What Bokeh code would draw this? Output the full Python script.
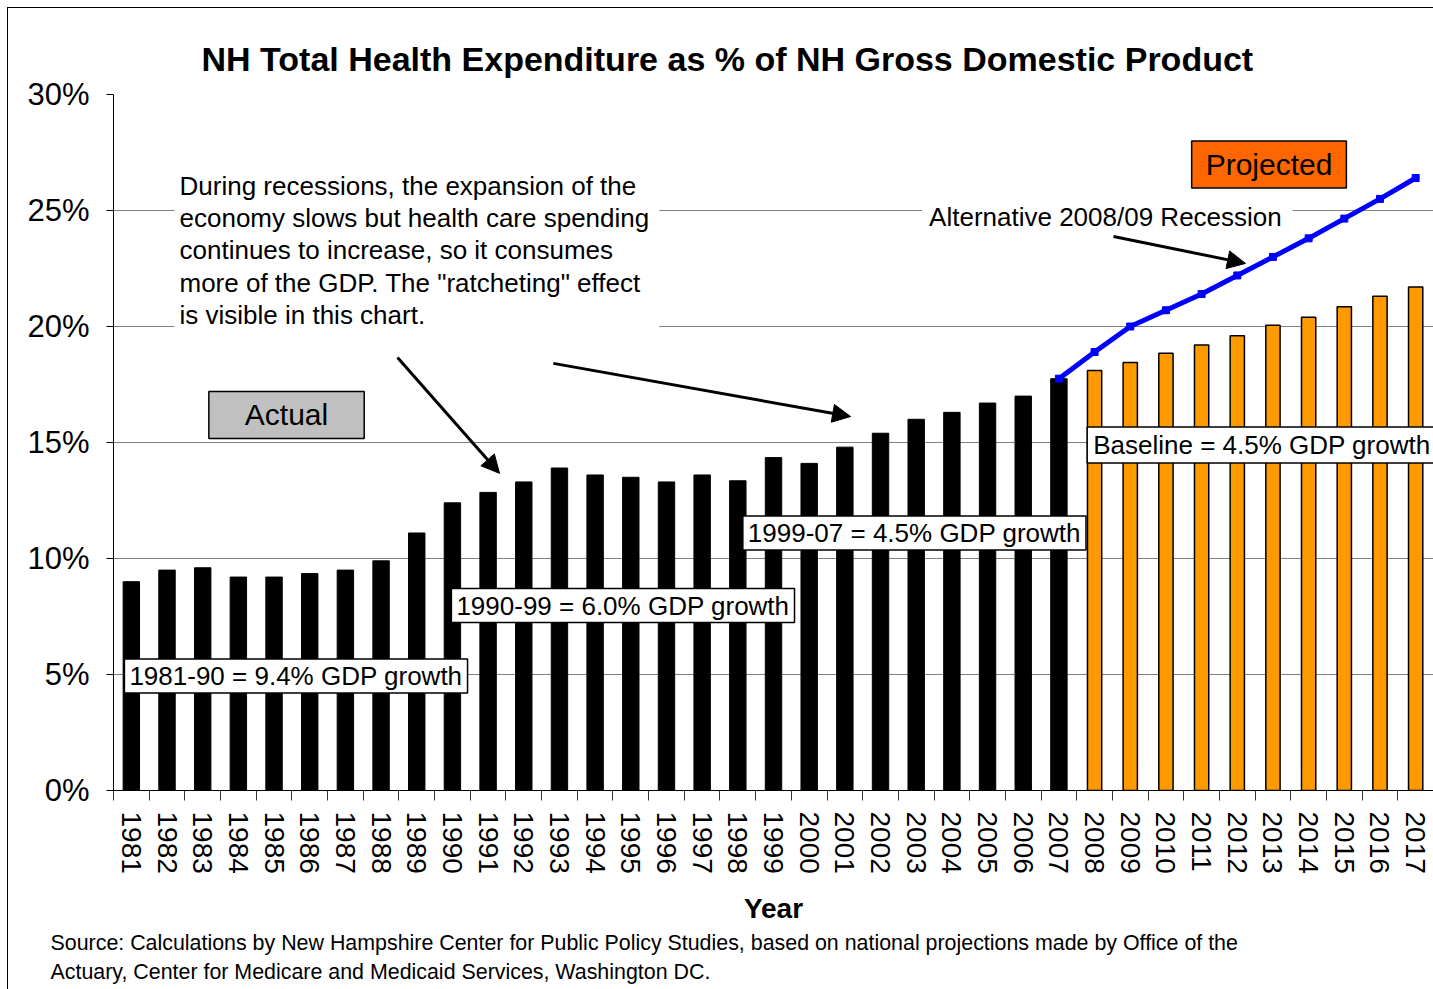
from bokeh.plotting import figure
from bokeh.models import (Range1d, FixedTicker, CustomJSTickFormatter, PrintfTickFormatter,
                          Label, Arrow, NormalHead, ColumnDataSource, Title)
from bokeh.embed import file_html
from bokeh.resources import INLINE

FONT = "Liberation Sans"

# ---------------- data ----------------
years = ["1981", "1982", "1983", "1984", "1985", "1986", "1987", "1988", "1989", "1990",
         "1991", "1992", "1993", "1994", "1995", "1996", "1997", "1998", "1999", "2000",
         "2001", "2002", "2003", "2004", "2005", "2006", "2007", "2008", "2009", "2010",
         "2011", "2012", "2013", "2014", "2015", "2016", "2017"]

actual_years = years[:27]
actual_pct = [9.0, 9.5, 9.6, 9.2, 9.2, 9.35, 9.5, 9.9, 11.1, 12.4,
              12.85, 13.3, 13.9, 13.6, 13.5, 13.3, 13.6, 13.35, 14.35, 14.1,
              14.8, 15.4, 16.0, 16.3, 16.7, 17.0, 17.75]

proj_years = years[27:]
proj_pct = [18.1, 18.45, 18.85, 19.2, 19.6, 20.05, 20.4, 20.85, 21.3, 21.7]

alt_years = years[26:]
alt_pct = [17.75, 18.9, 20.0, 20.7, 21.4, 22.2, 23.0, 23.8, 24.65, 25.5, 26.4]

y_ticks = [0, 5, 10, 15, 20, 25, 30]

pos = {y: i + 0.5 for i, y in enumerate(years)}

# ---------------- figure ----------------
p = figure(width=1433, height=989, x_range=Range1d(0, len(years)), y_range=Range1d(0, 30),
           output_backend="svg", toolbar_location=None,
           min_border_left=113, min_border_right=0, min_border_top=94, min_border_bottom=199)
p.styles = {"box-shadow": "inset 7px 7px 0 0 white, inset 8px 8px 0 0 black",
            "background-color": "white"}
p.outline_line_color = None
p.background_fill_color = "white"
p.border_fill_alpha = 0
p.xgrid.visible = False
p.ygrid.grid_line_color = "#808080"
p.ygrid.grid_line_width = 1
p.ygrid.ticker = FixedTicker(ticks=y_ticks)

# title (above)
p.add_layout(Title(text="NH Total Health Expenditure as % of NH Gross Domestic Product",
                   align="left", offset=88, standoff=33, text_font=FONT,
                   text_font_size="34px", text_font_style="bold", text_color="black"), "above")

# bars
src_a = ColumnDataSource(dict(x=[pos[y] for y in actual_years], top=actual_pct))
p.vbar(x="x", top="top", width=0.46, source=src_a, fill_color="black", line_color="black")
src_p = ColumnDataSource(dict(x=[pos[y] for y in proj_years], top=proj_pct))
p.vbar(x="x", top="top", width=0.4, source=src_p, fill_color="#FF9900", line_color="black",
       line_width=1.5)

# alternative line
src_l = ColumnDataSource(dict(x=[pos[y] for y in alt_years], y=alt_pct))
p.line(x="x", y="y", source=src_l, line_color="#0000FF", line_width=5)
p.scatter(x="x", y="y", source=src_l, marker="square", size=7, fill_color="#0000FF",
          line_color="#0000FF")

# axes
ya = p.yaxis[0]
ya.ticker = FixedTicker(ticks=y_ticks)
ya.formatter = PrintfTickFormatter(format="%d%%")
ya.major_label_text_font = FONT
ya.major_label_text_font_size = "31px"
ya.major_label_text_color = "black"
ya.major_tick_out = 7
ya.major_tick_in = 0
ya.minor_tick_out = 0
ya.minor_tick_in = 0
ya.axis_line_color = "black"
ya.major_tick_line_color = "black"
ya.major_label_standoff = 17

xa = p.xaxis[0]
xa.ticker = FixedTicker(ticks=[pos[y] for y in years], minor_ticks=list(range(len(years) + 1)))
xa.formatter = CustomJSTickFormatter(args=dict(labels=years),
                                     code="return labels[Math.floor(tick)];")
xa.major_label_orientation = "vertical"
xa.major_label_text_font = FONT
xa.major_label_text_font_size = "28px"
xa.major_label_text_color = "black"
xa.major_tick_out = 0
xa.major_tick_in = 0
xa.minor_tick_out = 10
xa.minor_tick_in = 0
xa.minor_tick_line_color = "#333333"
xa.axis_line_color = "black"
xa.major_label_standoff = 11
xa.axis_label = "Year"
xa.axis_label_text_font = FONT
xa.axis_label_text_font_size = "28px"
xa.axis_label_text_font_style = "bold"
xa.axis_label_text_color = "black"
xa.axis_label_standoff = 16

p.add_layout(Title(text="Source: Calculations by New Hampshire Center for Public Policy Studies, based on national projections made by Office of the",
                   align="left", offset=-63, standoff=5, text_font=FONT,
                   text_font_size="21.4px", text_font_style="normal", text_color="black"), "below")
p.add_layout(Title(text="Actuary, Center for Medicare and Medicaid Services, Washington DC.",
                   align="left", offset=-63, standoff=0, text_font=FONT,
                   text_font_size="21.4px", text_font_style="normal", text_color="black"), "below")

# ---------------- annotations ----------------
p.add_layout(Label(x=1.71, y=23.28,
                   text=("During recessions, the expansion of the\n"
                         "economy slows but health care spending\n"
                         "continues to increase, so it consumes\n"
                         "more of the GDP. The \"ratcheting\" effect\n"
                         "is visible in this chart."),
                   text_align="left", text_baseline="middle", text_font=FONT,
                   text_font_size="26px", text_color="black", text_line_height=1.07,
                   background_fill_color="white",
                   padding=dict(left=5, right=10, top=4, bottom=4)))

def boxed(x, y, text, size, fill, pad=(4, 5)):
    p.add_layout(Label(x=x, y=y, text=text, text_align="center", text_baseline="middle",
                       text_font=FONT, text_font_size=size, text_color="black",
                       background_fill_color=fill, border_line_color="black",
                       border_line_width=1.5,
                       padding=dict(left=pad[1], right=pad[1], top=pad[0], bottom=pad[0])))

boxed(4.85, 16.19, "Actual", "30px", "#C0C0C0", pad=(7, 36))
boxed(32.39, 26.98, "Projected", "30px", "#FF6600", pad=(7, 14))
boxed(5.115, 4.935, "1981-90 = 9.4% GDP growth", "26px", "white", pad=(2, 5))
boxed(14.28, 7.97, "1990-99 = 6.0% GDP growth", "26px", "white", pad=(2, 5))
boxed(22.45, 11.10, "1999-07 = 4.5% GDP growth", "26px", "white", pad=(2, 5))
boxed(32.19, 14.89, "Baseline = 4.5% GDP growth", "26px", "white", pad=(3, 6))

p.add_layout(Label(x=27.86, y=24.74, text="Alternative 2008/09 Recession",
                   text_align="center", text_baseline="middle", text_font=FONT,
                   text_font_size="26px", text_color="black", background_fill_color="white",
                   padding=dict(left=7, right=11, top=1, bottom=1)))

for xs, ys, xe, ye in [(7.96, 18.66, 10.82, 13.67), (12.33, 18.41, 20.66, 16.12),
                       (28.03, 23.88, 31.73, 22.72)]:
    p.add_layout(Arrow(end=NormalHead(size=18, fill_color="black", line_color="black"),
                       x_start=xs, y_start=ys, x_end=xe, y_end=ye,
                       line_color="black", line_width=3))

open("out.html", "w").write(file_html(p, INLINE))
